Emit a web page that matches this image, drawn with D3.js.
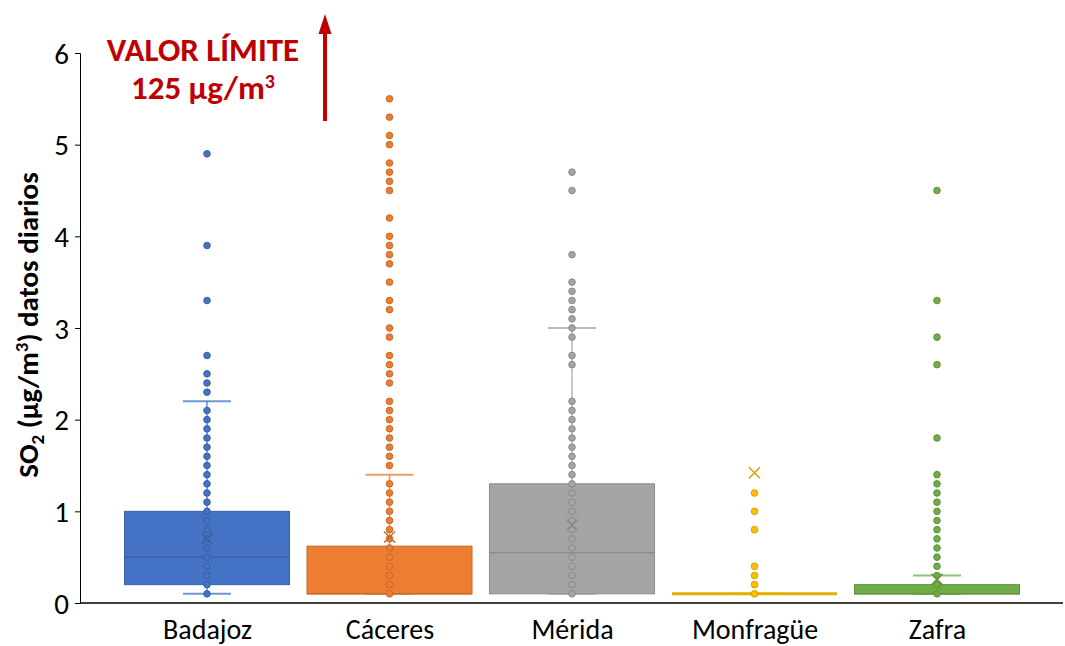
<!DOCTYPE html>
<html>
<head>
<meta charset="utf-8">
<script src="https://cdn.jsdelivr.net/npm/d3@7"></script>
<style>
  html, body { margin: 0; padding: 0; background: #fff; }
  svg { display: block; font-family: Carlito, Lato, "Open Sans", sans-serif; }
</style>
</head>
<body>
<svg id="chart" width="1065" height="646"></svg>
<script>
// Estaciones
const categories = ["Badajoz", "Cáceres", "Mérida", "Monfragüe", "Zafra"];
const colors = ["#4472C4", "#ED7D31", "#A5A5A5", "#FFC000", "#70AD47"];

// Estadísticos de cada caja (µg/m³)
const q1 = [0.2, 0.1, 0.1, 0.1, 0.1];
const median = [0.5, 0.1, 0.55, 0.1, 0.1];
const q3 = [1.0, 0.62, 1.3, 0.1, 0.2];
const whiskerLow = [0.1, 0.1, 0.1, 0.1, 0.1];
const whiskerHigh = [2.2, 1.4, 3.0, 0.1, 0.3];
const mean = [0.7, 0.72, 0.85, 1.42, 0.26];

// Valores diarios mostrados como puntos
const ptsBadajoz = [0.1, 0.2, 0.3, 0.4, 0.5, 0.6, 0.7, 0.8, 0.9, 1.0, 1.1, 1.2, 1.3, 1.4, 1.5,
  1.6, 1.7, 1.8, 1.9, 2.0, 2.1, 2.3, 2.4, 2.5, 2.7, 3.3, 3.9, 4.9];
const ptsCaceres = [0.1, 0.2, 0.3, 0.4, 0.5, 0.6, 0.7, 0.8, 0.9, 1.0, 1.1, 1.2, 1.3, 1.5, 1.6,
  1.7, 1.8, 1.9, 2.0, 2.1, 2.2, 2.4, 2.5, 2.6, 2.7, 2.9, 3.0, 3.2, 3.3, 3.5, 3.7, 3.8, 3.9,
  4.0, 4.2, 4.5, 4.6, 4.7, 4.8, 5.0, 5.1, 5.3, 5.5];
const ptsMerida = [0.1, 0.2, 0.3, 0.4, 0.5, 0.6, 0.7, 0.8, 0.9, 1.0, 1.1, 1.2, 1.3, 1.4, 1.5,
  1.6, 1.7, 1.8, 1.9, 2.0, 2.1, 2.2, 2.6, 2.7, 2.9, 3.0, 3.1, 3.2, 3.3, 3.4, 3.5, 3.8, 4.5, 4.7];
const ptsMonfrague = [0.1, 0.2, 0.3, 0.4, 0.8, 1.0, 1.2];
const ptsZafra = [0.1, 0.2, 0.3, 0.4, 0.5, 0.6, 0.7, 0.8, 0.9, 1.0, 1.1, 1.2, 1.3, 1.4,
  1.8, 2.6, 2.9, 3.3, 4.5];
const points = [ptsBadajoz, ptsCaceres, ptsMerida, ptsMonfrague, ptsZafra];

const yTicks = [0, 1, 2, 3, 4, 5, 6];

const FONT = "Carlito, Lato, 'Open Sans', sans-serif";
const svg = d3.select("#chart");
const axisLeftX = 80, axisRightX = 1063;

const y = d3.scaleLinear().domain([0, 6]).range([603, 53]);
const x = d3.scalePoint().domain(categories).range([207, 937]);
const boxW = 165, capW = 48;

// Eje Y
const yAxis = svg.append("g")
  .attr("transform", `translate(${axisLeftX},0)`)
  .call(d3.axisLeft(y).tickValues(yTicks).tickSize(5).tickPadding(6).tickFormat(d3.format("d")));
yAxis.select(".domain").attr("stroke", "#000").attr("stroke-width", 1);
yAxis.selectAll(".tick line").attr("stroke", "#000");
yAxis.selectAll(".tick text").attr("font-size", 29).attr("fill", "#000")
  .attr("font-family", FONT).attr("dy", "0.35em");

// Título del eje Y
const yTitle = svg.append("text")
  .attr("transform", "translate(38,325) rotate(-90)")
  .attr("text-anchor", "middle")
  .attr("font-size", 29).attr("font-weight", "bold").attr("fill", "#000");
yTitle.append("tspan").text("SO");
yTitle.append("tspan").text("2").attr("font-size", 19).attr("dy", 6);
yTitle.append("tspan").text(" (µg/m").attr("dy", -6);
yTitle.append("tspan").text("3").attr("font-size", 19).attr("dy", -10);
yTitle.append("tspan").text(") datos diarios").attr("dy", 10);

// Cajas y bigotes
categories.forEach((c, i) => {
  const cx = x(c);
  const col = colors[i];
  const dark = d3.color(col).darker(0.5).formatHex();
  const g = svg.append("g");

  // bigotes
  g.append("line").attr("x1", cx).attr("x2", cx)
    .attr("y1", y(q3[i])).attr("y2", y(whiskerHigh[i]))
    .attr("stroke", col).attr("stroke-width", 1.5).attr("opacity", 0.8);
  g.append("line").attr("x1", cx).attr("x2", cx)
    .attr("y1", y(q1[i])).attr("y2", y(whiskerLow[i]))
    .attr("stroke", col).attr("stroke-width", 1.5).attr("opacity", 0.8);
  g.append("line").attr("x1", cx - capW / 2).attr("x2", cx + capW / 2)
    .attr("y1", y(whiskerHigh[i])).attr("y2", y(whiskerHigh[i]))
    .attr("stroke", col).attr("stroke-width", 2).attr("opacity", 0.75);
  g.append("line").attr("x1", cx - capW / 2).attr("x2", cx + capW / 2)
    .attr("y1", y(whiskerLow[i])).attr("y2", y(whiskerLow[i]))
    .attr("stroke", col).attr("stroke-width", 2).attr("opacity", 0.75);

  // caja
  const top = y(q3[i]), bot = y(q1[i]);
  if (bot - top > 0.5) {
    g.append("rect").attr("x", cx - boxW / 2).attr("width", boxW)
      .attr("y", top).attr("height", bot - top)
      .attr("fill", col).attr("stroke", dark).attr("stroke-width", 1);
    g.append("line").attr("x1", cx - boxW / 2).attr("x2", cx + boxW / 2)
      .attr("y1", y(median[i])).attr("y2", y(median[i]))
      .attr("stroke", dark).attr("stroke-width", 1.2);
  } else {
    g.append("line").attr("x1", cx - boxW / 2).attr("x2", cx + boxW / 2)
      .attr("y1", top).attr("y2", top)
      .attr("stroke", d3.color(col).darker(0.3).formatHex()).attr("stroke-width", 3);
  }

  // puntos
  g.selectAll("circle").data(points[i]).join("circle")
    .attr("cx", cx).attr("cy", d => y(d)).attr("r", 3.3)
    .attr("fill", col).attr("stroke", dark).attr("stroke-width", 1);

  // media
  const my = y(mean[i]), s = 5.5;
  g.append("path")
    .attr("d", `M${cx - s},${my - s}L${cx + s},${my + s}M${cx - s},${my + s}L${cx + s},${my - s}`)
    .attr("stroke", dark).attr("stroke-width", 1.5).attr("fill", "none");
});

// Eje X
svg.append("line").attr("x1", axisLeftX).attr("x2", axisRightX)
  .attr("y1", y(0)).attr("y2", y(0)).attr("stroke", "#000").attr("stroke-width", 1.5);
const xAxis = svg.append("g").attr("transform", `translate(0,${y(0)})`)
  .call(d3.axisBottom(x).tickSize(0));
xAxis.select(".domain").remove();
xAxis.selectAll(".tick text").attr("font-size", 28).attr("fill", "#000")
  .attr("font-family", FONT).attr("y", 36).attr("dy", 0);

// Anotación del valor límite
const red = "#C00000";
svg.append("text").attr("x", 203).attr("y", 61).attr("text-anchor", "middle")
  .attr("font-size", 33).attr("font-weight", "bold").attr("fill", red).text("VALOR LÍMITE");
const lim = svg.append("text").attr("x", 203).attr("y", 99).attr("text-anchor", "middle")
  .attr("font-size", 33).attr("font-weight", "bold").attr("fill", red);
lim.append("tspan").text("125 µg/m");
lim.append("tspan").text("3").attr("font-size", 20).attr("dy", -11);

svg.append("line").attr("x1", 325).attr("x2", 325).attr("y1", 121).attr("y2", 32)
  .attr("stroke", red).attr("stroke-width", 4);
svg.append("path").attr("d", "M325,14L331.5,34L318.5,34Z").attr("fill", red);
</script>
</body>
</html>
